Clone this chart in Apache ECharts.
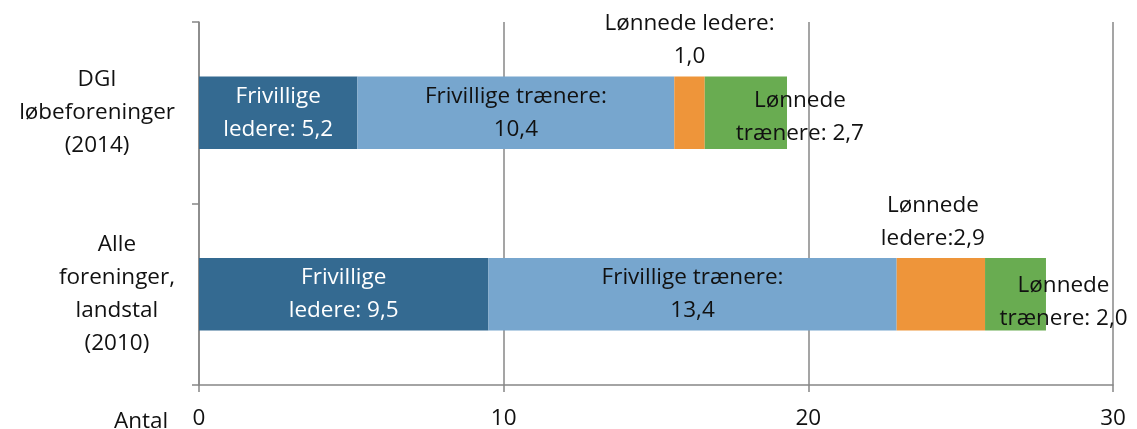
<!DOCTYPE html>
<html>
<head>
<meta charset="utf-8">
<script src="https://cdn.jsdelivr.net/npm/echarts@6/dist/echarts.min.js"></script>
<style>
  html, body { margin: 0; padding: 0; background: #fff; }
  #box { width: 1137px; height: 429px; }
</style>
</head>
<body>
<div id="box"></div>
<script>
// data
const categories = ['DGI\nløbeforeninger\n(2014)', 'Alle\nforeninger,\nlandstal\n(2010)']
const frivilligeLedere = [5.2, 9.5]
const frivilligeTraenere = [10.4, 13.4]
const lonnedeLedere = [1.0, 2.9]
const lonnedeTraenere = [2.7, 2.0]
const xTicks = [0, 10, 20, 30]

const font = 'Open Sans'
const fs = 22.5
const fmt = v => v.toFixed(1).replace('.', ',')

// Excel labels were nudged by hand, so some need an offset
const withOffsets = (values, offsets) => values.map((v, i) => ({
  value: v,
  label: offsets ? { offset: offsets[i] } : undefined
}))

const labelBase = {
  show: true,
  fontFamily: font,
  fontSize: fs,
  lineHeight: 33,
  color: '#111'
}

const myChart = echarts.init(document.getElementById('box'))
myChart.setOption({
  animation: false,
  title: {
    text: 'Antal',
    left: 109,
    top: 405,
    textStyle: { fontFamily: font, fontSize: fs, fontWeight: 'normal', color: '#111' }
  },
  grid: { left: 199, right: 24, top: 22, bottom: 44, outerBoundsMode: 'none' },
  xAxis: {
    type: 'value',
    min: xTicks[0],
    max: xTicks[xTicks.length - 1],
    interval: 10,
    axisLine: { show: true, lineStyle: { color: '#878787', width: 1.5 } },
    axisTick: { show: true, length: 7, lineStyle: { color: '#878787', width: 1.5 } },
    axisLabel: { fontFamily: font, fontSize: fs, lineHeight: 24, color: '#111', margin: 22 },
    splitLine: { show: true, lineStyle: { color: '#878787', width: 1.5 } }
  },
  yAxis: {
    type: 'category',
    inverse: true,
    data: categories,
    axisLine: { show: true, lineStyle: { color: '#878787', width: 1.5 } },
    axisTick: { show: true, length: 7, lineStyle: { color: '#878787', width: 1.5 } },
    axisLabel: {
      margin: 24,
      align: 'right',
      formatter: v => v.split('\n').map(l => '{c|' + l + '}').join('\n'),
      rich: {
        c: { fontFamily: font, fontSize: fs, lineHeight: 33, color: '#111', align: 'center' }
      }
    }
  },
  series: [
    {
      name: 'Frivillige ledere',
      type: 'bar',
      stack: 'total',
      barCategoryGap: '60%',
      itemStyle: { color: '#346A91' },
      label: Object.assign({}, labelBase, {
        position: 'inside',
        color: '#fff',
        formatter: p => 'Frivillige\nledere: ' + fmt(p.value)
      }),
      data: frivilligeLedere
    },
    {
      name: 'Frivillige trænere',
      type: 'bar',
      stack: 'total',
      itemStyle: { color: '#77A6CE' },
      label: Object.assign({}, labelBase, {
        position: 'inside',
        formatter: p => 'Frivillige trænere:\n' + fmt(p.value)
      }),
      data: frivilligeTraenere
    },
    {
      name: 'Lønnede ledere',
      type: 'bar',
      stack: 'total',
      itemStyle: { color: '#EE953A' },
      label: Object.assign({}, labelBase, {
        position: 'top',
        distance: 3,
        formatter: p => p.dataIndex === 0
          ? 'Lønnede ledere:\n' + fmt(p.value)
          : 'Lønnede\nledere:' + fmt(p.value)
      }),
      data: withOffsets(lonnedeLedere, [[0, 0], [-8, 0]])
    },
    {
      name: 'Lønnede trænere',
      type: 'bar',
      stack: 'total',
      itemStyle: { color: '#69AC51' },
      label: Object.assign({}, labelBase, {
        position: 'inside',
        formatter: p => 'Lønnede\ntrænere: ' + fmt(p.value)
      }),
      data: withOffsets(lonnedeTraenere, [[54, 4], [48, 8]])
    }
  ]
})
</script>
</body>
</html>
